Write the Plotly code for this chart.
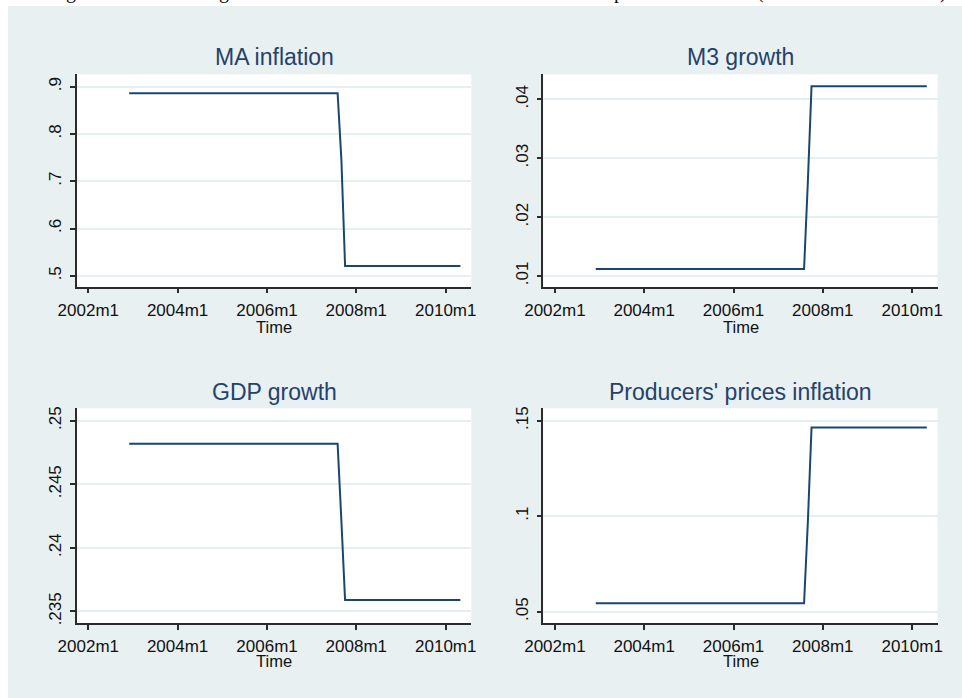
import plotly.graph_objects as go

# ---- data ----
dates = ["2002-12-01", "2007-08-01", "2007-09-01", "2007-10-01", "2010-05-01"]
ma_inflation = [0.886, 0.886, 0.745, 0.521, 0.521]
m3_growth = [0.0112, 0.0112, 0.026, 0.0422, 0.0422]
gdp_growth = [0.2482, 0.2482, 0.2421, 0.2359, 0.2359]
ppi_inflation = [0.0544, 0.0544, 0.097, 0.1465, 0.1465]

panel_titles = ["MA inflation", "M3 growth", "GDP growth", "Producers' prices inflation"]
x_tickvals = ["2002-01-01", "2004-01-01", "2006-01-01", "2008-01-01", "2010-01-01"]
x_ticktext = ["2002m1", "2004m1", "2006m1", "2008m1", "2010m1"]
x_title = "Time"

y_ticks = [
    ([0.5, 0.6, 0.7, 0.8, 0.9], [".5", ".6", ".7", ".8", ".9"]),
    ([0.01, 0.02, 0.03, 0.04], [".01", ".02", ".03", ".04"]),
    ([0.235, 0.24, 0.245, 0.25], [".235", ".24", ".245", ".25"]),
    ([0.05, 0.1, 0.15], [".05", ".1", ".15"]),
]
y_ranges = [[0.477, 0.926], [0.00818, 0.04425], [0.23406, 0.25098], [0.0439, 0.1565]]
x_range = ["2001-09-28", "2010-07-29"]

# caption fragments cut off at the top edge
caption_chars = ["g", "g", "p", "(", "/", ")"]
caption_x = [71, 224, 619, 760, 848, 943]

series = [ma_inflation, m3_growth, gdp_growth, ppi_inflation]

# ---- layout geometry (pixels) ----
W, H = 962, 698
BG = "#e8f0f2"
LINE = "#1a476f"
AX = "#2b2b2b"
TITLE_C = "#24426a"
FONT = "Liberation Sans, Arial, sans-serif"


def fx(x):
    return x / W


def fy(y):
    return 1 - y / H


cols = [(76.7, 471.3), (543.3, 937.7)]
rows = [(74.3, 286.7), (408.3, 623.3)]
title_y = [57, 392]
time_y = [327, 661]

fig = go.Figure()
layout = dict(
    template="none",
    width=W, height=H, margin=dict(l=0, r=0, t=0, b=0, autoexpand=False),
    paper_bgcolor=BG, plot_bgcolor="white", showlegend=False,
    font=dict(family=FONT, color="#111"),
)
annotations = []
for i in range(4):
    r, c = divmod(i, 2)
    x0, x1 = cols[c]
    y0, y1 = rows[r]
    sfx = "" if i == 0 else str(i + 1)
    fig.add_trace(go.Scatter(
        x=dates, y=series[i], mode="lines",
        line=dict(color=LINE, width=2),
        xaxis="x" + sfx, yaxis="y" + sfx, hoverinfo="skip"))
    layout["xaxis" + sfx] = dict(
        domain=[fx(x0), fx(x1)], anchor="y" + sfx, type="date",
        range=x_range, tickvals=x_tickvals, ticktext=x_ticktext,
        showline=True, linecolor=AX, linewidth=1.5,
        ticks="outside", ticklen=5, tickwidth=1.5, tickcolor=AX,
        showgrid=False, zeroline=False, automargin=False,
        tickfont=dict(size=17, color="#111", family=FONT),
        ticklabelstandoff=2,
    )
    tv, tt = y_ticks[i]
    layout["yaxis" + sfx] = dict(
        domain=[fy(y1), fy(y0)], anchor="x" + sfx,
        range=y_ranges[i], tickvals=tv, ticktext=tt, tickangle=-90,
        showline=True, linecolor=AX, linewidth=1.5,
        ticks="outside", ticklen=5, tickwidth=1.5, tickcolor=AX,
        showgrid=True, gridcolor="#e6eff1", gridwidth=1.5, zeroline=False,
        automargin=False,
        tickfont=dict(size=17, color="#111", family=FONT),
        ticklabelstandoff=2,
    )
    cx = (x0 + x1) / 2
    annotations.append(dict(
        text=panel_titles[i], x=fx(cx), y=fy(title_y[r]), xref="paper", yref="paper",
        xanchor="center", yanchor="middle", showarrow=False,
        font=dict(size=23, color=TITLE_C, family=FONT)))
    annotations.append(dict(
        text=x_title, x=fx(cx), y=fy(time_y[r]), xref="paper", yref="paper",
        xanchor="center", yanchor="middle", showarrow=False,
        font=dict(size=16.5, color="#111", family=FONT)))

for ch, cxp in zip(caption_chars, caption_x):
    annotations.append(dict(
        text=ch, x=fx(cxp), y=fy(4.5), xref="paper", yref="paper",
        xanchor="center", yanchor="bottom", showarrow=False,
        font=dict(size=20, color="#111", family="Liberation Serif, Times New Roman, serif")))

layout["annotations"] = annotations
layout["shapes"] = [
    dict(type="rect", xref="paper", yref="paper", x0=0, x1=1, y0=fy(6), y1=1,
         fillcolor="white", line=dict(width=0), layer="below"),
    dict(type="rect", xref="paper", yref="paper", x0=0, x1=fx(8), y0=0, y1=1,
         fillcolor="white", line=dict(width=0), layer="below"),
]
fig.update_layout(**layout)
fig.write_html("out.html")
